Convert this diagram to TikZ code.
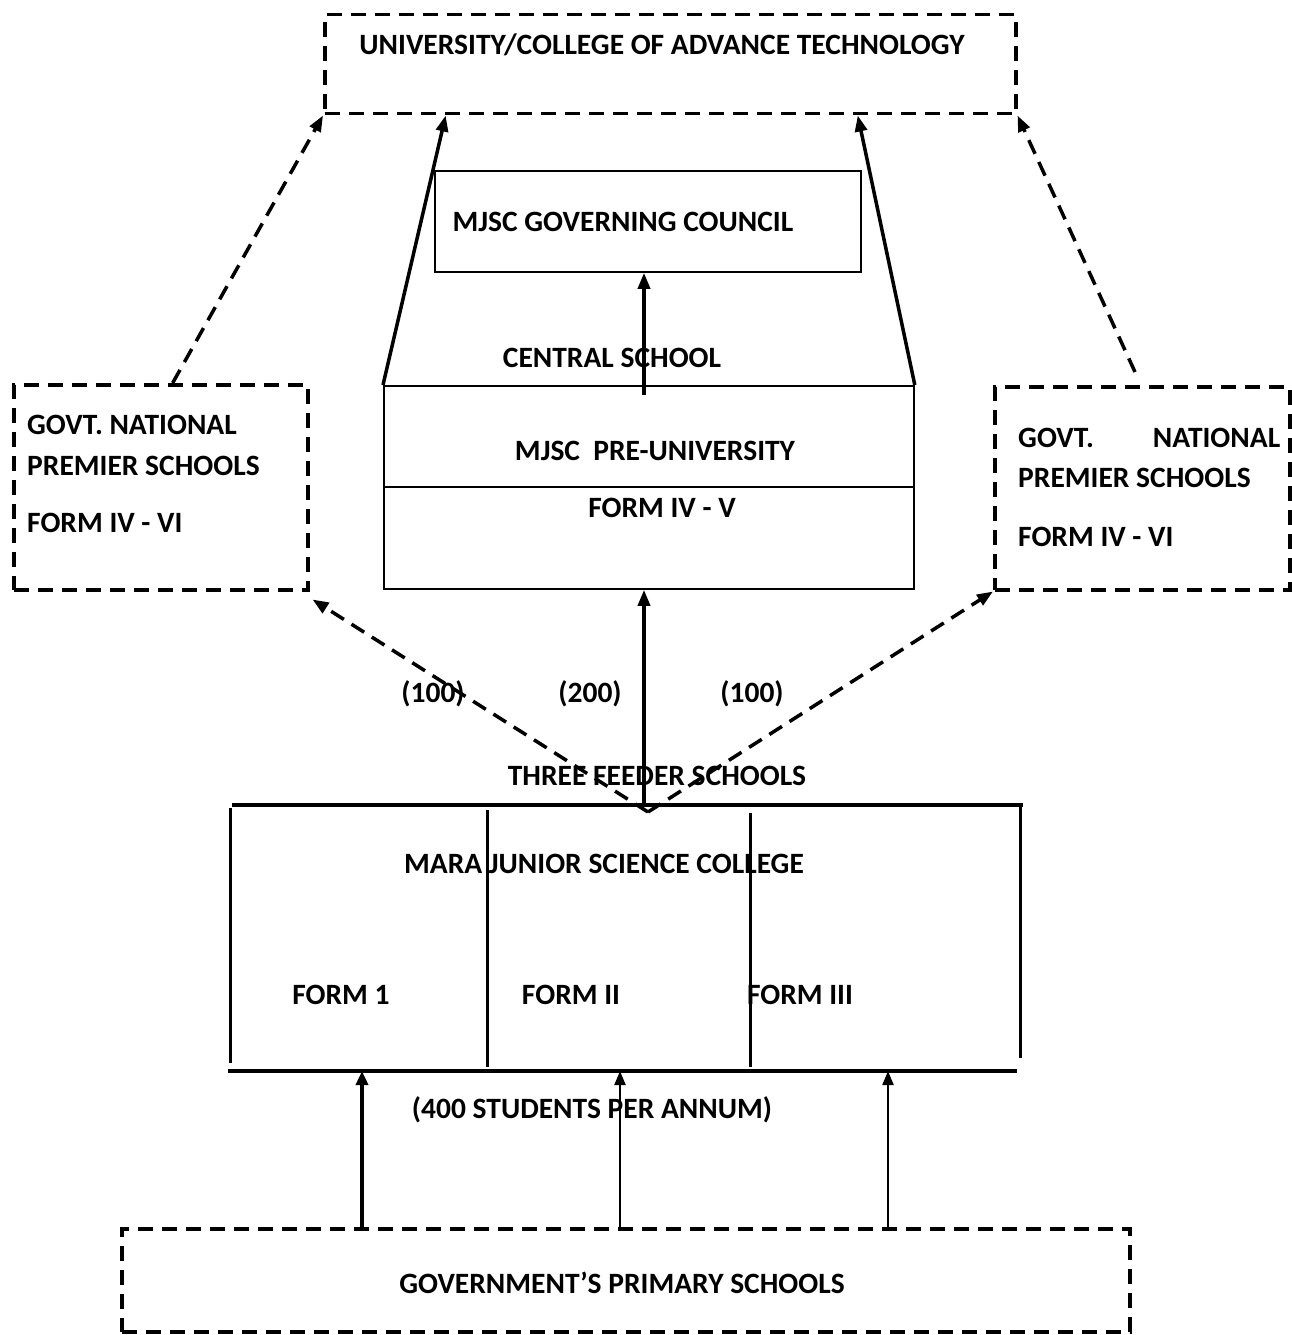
\documentclass[tikz,border=0pt]{standalone}
\usepackage{fontspec}
\setmainfont{Carlito}
\usetikzlibrary{arrows.meta,calc}
\begin{document}
\begin{tikzpicture}[x=1pt,y=-1pt,
  lbl/.style={font=\bfseries\fontsize{29.5}{34}\selectfont, inner sep=0pt},
  dbox/.style={draw, line width=3.5pt, dash pattern=on 15pt off 9pt, inner sep=0pt},
  sbox/.style={draw, line width=1.8pt, inner sep=0pt},
  arr/.style={line width=3.5pt, -{Triangle[length=16pt,width=12pt]}},
  thinarr/.style={line width=2.2pt, -{Triangle[length=14pt,width=11pt]}},
  darr/.style={arr, dash pattern=on 15pt off 9pt},
  bar/.style={line width=4.5pt},
  wall/.style={line width=3pt},
]
\useasboundingbox (0,0) rectangle (1292,1335);

% boxes
\node[dbox, anchor=north west, minimum width=691pt, minimum height=99pt] (univ) at (323,13) {};
\node[sbox, anchor=north west, minimum width=426pt, minimum height=101pt] (gov) at (434,170) {};
\node[sbox, anchor=north west, minimum width=530pt, minimum height=203pt] (pre) at (383,385) {};
\node[dbox, anchor=north west, minimum width=294pt, minimum height=205pt] (govl) at (12,383) {};
\node[dbox, anchor=north west, minimum width=295pt, minimum height=203pt] (govr) at (993,385) {};
\node[dbox, anchor=north west, minimum width=1008pt, minimum height=103pt] (prim) at (120,1227) {};

% divider in pre-university box
\draw[line width=1.8pt] (pre.west |- 0,487) -- (pre.east |- 0,487);

% texts
\node[lbl] (univt) at (662,45) {UNIVERSITY/COLLEGE OF ADVANCE TECHNOLOGY};
\node[lbl] (govt) at (623,222) {MJSC GOVERNING COUNCIL};
\node[lbl] (central) at (612,358) {CENTRAL SCHOOL};
\node[lbl] (pret) at (655,451) {MJSC\ \ PRE-UNIVERSITY};
\node[lbl] (pref) at (662,508) {FORM IV - V};
\node[lbl, anchor=west] (gl1) at (27,425) {GOVT. NATIONAL};
\node[lbl, anchor=west] (gl2) at (27,466) {PREMIER SCHOOLS};
\node[lbl, anchor=west] (gl3) at (27,523) {FORM IV - VI};
\node[lbl, anchor=west] (gr1) at (1018,438) {\makebox[262pt][s]{GOVT.\hfill NATIONAL}};
\node[lbl, anchor=west] (gr2) at (1018,478) {PREMIER SCHOOLS};
\node[lbl, anchor=west] (gr3) at (1018,537) {FORM IV - VI};
\node[lbl] (n1) at (433,694) {(100)};
\node[lbl] (n2) at (590,694) {(200)};
\node[lbl] (n3) at (752,694) {(100)};
\node[lbl] (feed) at (657,776) {THREE FEEDER SCHOOLS};
\node[lbl] (mara) at (604,864) {MARA JUNIOR SCIENCE COLLEGE};
\node[lbl] (f1) at (341,995) {FORM 1};
\node[lbl] (f2) at (571,995) {FORM II};
\node[lbl] (f3) at (800,995) {FORM III};
\node[lbl] (per) at (592,1110) {(400 STUDENTS PER ANNUM)};
\node[lbl] (primt) at (622,1283) {GOVERNMENT’S PRIMARY SCHOOLS};

% Mara junior science college frame
\coordinate (mtl) at (232,805);
\coordinate (mtr) at (1023,805);
\coordinate (mbl) at (228,1071);
\coordinate (mbr) at (1017,1071);
\draw[bar] (mtl) -- (mtr);
\draw[bar] (mbl) -- (mbr);
\draw[wall] (230,808) -- (230,1063);
\draw[wall] (487,810) -- (487,1067);
\draw[wall] (750,813) -- (750,1067);
\draw[wall] (1020,806) -- (1020,1058);

% connectors to university
\coordinate (glt) at ($(govl.north west)!0.54!(govl.north east)$);
\coordinate (grt) at (1135,372);
\draw[darr] (glt) -- (univ.south west);
\draw[darr] (grt) -- (univ.south east);
\draw[arr] (pre.north west) -- ($(univ.south west)!0.1766!(univ.south east)$);
\draw[arr] (pre.north east) -- ($(univ.south west)!0.77!(univ.south east)$);

% central school to governing council
\coordinate (cs) at (644,395);
\draw[arr] (cs) -- (cs |- gov.south);

% feeder schools upward
\coordinate (fp) at (648,812);
\coordinate (fs) at (644,803);
\draw[arr] (fs) -- (fs |- pre.south);
\draw[darr] (fp) -- ($(govl.south east)+(3,8)$);
\draw[darr] (fp) -- (govr.south west);

% primary schools to forms
\coordinate (p1) at (362,1227);
\coordinate (p2) at (620,1227);
\coordinate (p3) at (888,1227);
\draw[arr, -{Triangle[length=14pt,width=12pt]}] (p1) -- (p1 |- mbl);
\draw[thinarr] (p2) -- (p2 |- mbl);
\draw[thinarr] (p3) -- (p3 |- mbl);
\end{tikzpicture}
\end{document}
